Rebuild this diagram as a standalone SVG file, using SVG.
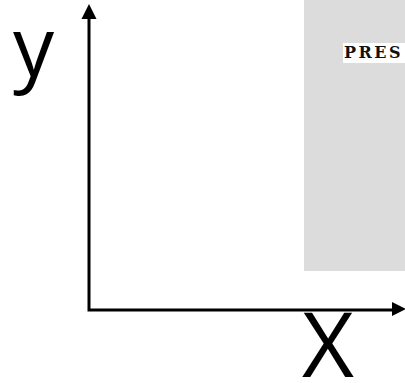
<svg xmlns="http://www.w3.org/2000/svg" width="405" height="383" viewBox="0 0 405 383">
<style>
.axis{stroke:#000;stroke-width:3;fill:none}
.lbl{font-family:"Open Sans","DejaVu Sans",sans-serif;fill:#000}
.tag{font-family:"DejaVu Serif","Liberation Serif",serif;font-weight:bold;font-size:16px;letter-spacing:2.5px;fill:#111}
</style>
<rect width="405" height="383" fill="#fff"/>
<g id="panel">
<rect x="304" y="0" width="101" height="271" fill="#dcdcdc"/>
<rect x="343" y="43" width="62" height="20" fill="#fff"/>
<text class="tag" x="344" y="57.5">PRES</text>
</g>
<g id="connectors">
<path class="axis" d="M89 17 V310 H394"/>
<polygon points="89,4 81.5,19 96.5,19" fill="#000"/>
<polygon points="406,309 392,302 392,316" fill="#000"/>
</g>
<g id="label-y"><text class="lbl" x="13" y="76" font-size="82">y</text></g>
<g id="label-x"><text class="lbl" x="302" y="377" font-size="90">X</text></g>
</svg>
